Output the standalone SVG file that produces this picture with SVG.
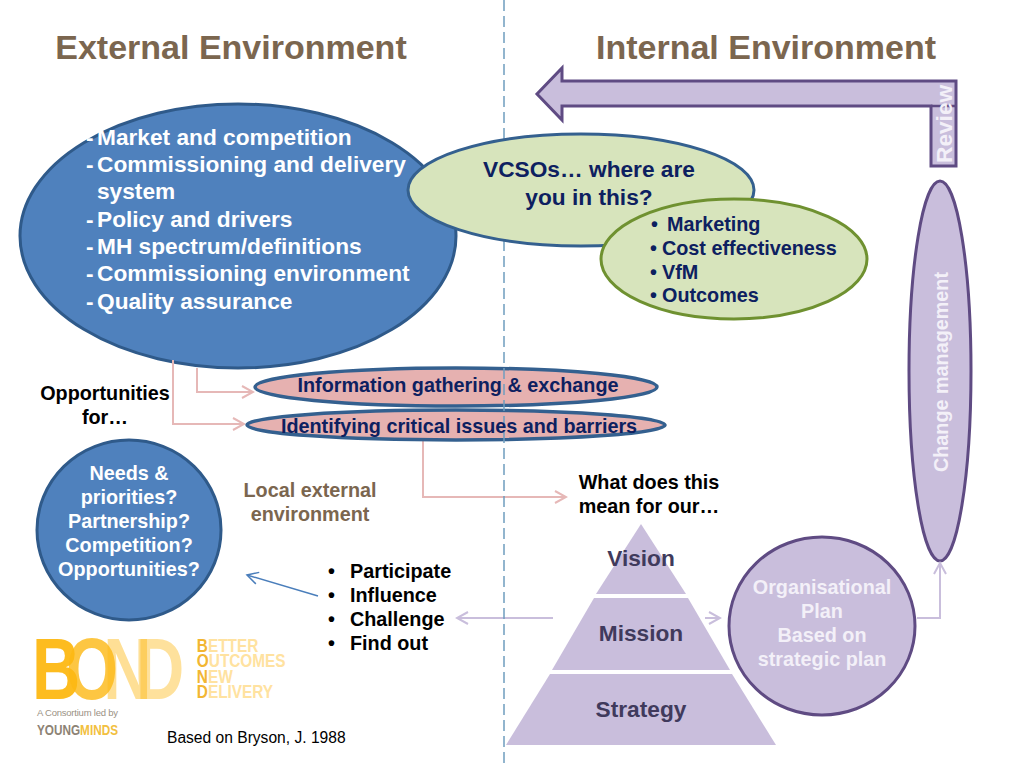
<svg xmlns="http://www.w3.org/2000/svg" width="1024" height="768" viewBox="0 0 1024 768">
<style>
text{font-family:"Liberation Sans",Arial,sans-serif;font-weight:700}
.c{text-anchor:middle}
.head{font-size:34px;fill:#7b664f}
.w{font-size:22.700px;fill:#fff}
.w2{font-size:19.800px;fill:#fff}
.l{font-size:19.800px;fill:#f3f0f8}
.n{fill:#0d2060}
.k{font-size:19.800px;fill:#000}
.pur{fill:#c9bedc;stroke:#5f4b83;stroke-width:3}
.pink{fill:none;stroke:#e6b8b7;stroke-width:2}
.lil{fill:none;stroke:#c9bedc;stroke-width:2}
.el{fill:#e6b1b0;stroke:#34608f;stroke-width:3.500}
.pyr{fill:#c9bedc}
.py{font-size:22.700px;fill:#403a5c}
</style>
<defs>
<marker id="ap" markerWidth="14" markerHeight="14" refX="12" refY="7" orient="auto" markerUnits="userSpaceOnUse"><path d="M1 1L12 7L1 13" fill="none" stroke="#e6b8b7" stroke-width="2"/></marker>
<marker id="al" markerWidth="14" markerHeight="14" refX="12" refY="7" orient="auto" markerUnits="userSpaceOnUse"><path d="M1 1L12 7L1 13" fill="none" stroke="#c9bedc" stroke-width="2"/></marker>
<marker id="ab" markerWidth="14" markerHeight="14" refX="12" refY="7" orient="auto" markerUnits="userSpaceOnUse"><path d="M1 1L12 7L1 13" fill="none" stroke="#4a7ebb" stroke-width="1.500"/></marker>
</defs>
<rect width="1024" height="768" fill="#fff"/>
<text class="head c" x="231" y="59">External Environment</text>
<text class="head c" x="766" y="59">Internal Environment</text>

<g id="review-arrow">
<path class="pur" d="M931 106H562V120L537 94L562 68V81H956V166H931Z"/>
<path d="M931 106H956" stroke="#5f4b83" stroke-width="2.500"/>
<text class="l" style="font-size:22.700px" transform="translate(952,163) rotate(-90)">Review</text>
</g>

<g id="external-ellipse">
<ellipse cx="238" cy="236" rx="218" ry="132" fill="#4f81bd" stroke="#2f5a8a" stroke-width="3"/>
<text class="w" x="86" y="145">-</text><text class="w" x="97" y="145">Market and competition</text>
<text class="w" x="86" y="172">-</text><text class="w" x="97" y="172">Commissioning and delivery</text>
<text class="w" x="97" y="199">system</text>
<text class="w" x="86" y="227">-</text><text class="w" x="97" y="227">Policy and drivers</text>
<text class="w" x="86" y="254">-</text><text class="w" x="97" y="254">MH spectrum/definitions</text>
<text class="w" x="86" y="281">-</text><text class="w" x="97" y="281">Commissioning environment</text>
<text class="w" x="86" y="309">-</text><text class="w" x="97" y="309">Quality assurance</text>
</g>

<g id="change">
<ellipse cx="940" cy="371" rx="31" ry="190" class="pur"/>
<text class="l c" transform="translate(948,372) rotate(-90)">Change management</text>
</g>

<g id="connectors">
<path class="pink" d="M197 368V392H253" marker-end="url(#ap)"/>
<path class="pink" d="M173 360V424H244" marker-end="url(#ap)"/>
<path class="pink" d="M423 441V497H566" marker-end="url(#ap)"/>
<path d="M318 596L247 575" fill="none" stroke="#4a7ebb" stroke-width="1.500" marker-end="url(#ab)"/>
<path class="lil" d="M553 618H457" marker-end="url(#al)"/>
<path class="lil" d="M705 618H720" marker-end="url(#al)"/>
<path class="lil" d="M917 618H940V563" marker-end="url(#al)"/>
</g>

<g id="info">
<ellipse cx="456" cy="387" rx="201" ry="19" class="el"/>
</g>
<g id="identify">
<ellipse cx="456" cy="425" rx="209" ry="15" class="el"/>
</g>
<line x1="504" y1="0" x2="504" y2="768" stroke="#6f9dbf" stroke-width="1.500" stroke-dasharray="11 5"/>
<text class="c n" x="458" y="392" font-size="19.800">Information gathering &amp; exchange</text>
<text class="c n" x="459" y="433" font-size="19.800">Identifying critical issues and barriers</text>

<g id="vcso">
<ellipse cx="581" cy="190" rx="173" ry="56" fill="#d7e4bc" stroke="#34608f" stroke-width="3"/>
<text class="c n" x="589" y="177" font-size="22.700">VCSOs… where are</text>
<text class="c n" x="589" y="205" font-size="22.700">you in this?</text>
</g>
<g id="marketing">
<ellipse cx="734" cy="259" rx="133" ry="60" fill="#d7e4bc" stroke="#6f9130" stroke-width="3"/>
<g class="n" font-size="19.800">
<text x="651" y="231">•</text><text x="667" y="231">Marketing</text>
<text x="650" y="255">•</text><text x="662" y="255">Cost effectiveness</text>
<text x="650" y="279">•</text><text x="662" y="279">VfM</text>
<text x="650" y="302">•</text><text x="662" y="302">Outcomes</text>
</g>
</g>

<text class="c k" x="105" y="400">Opportunities</text>
<text class="c k" x="105" y="424">for…</text>

<g id="needs">
<ellipse cx="129" cy="530" rx="92" ry="90" fill="#4f81bd" stroke="#2f5a8a" stroke-width="3"/>
<g class="c w2">
<text x="129" y="480">Needs &amp;</text>
<text x="129" y="504">priorities?</text>
<text x="129" y="528">Partnership?</text>
<text x="129" y="552">Competition?</text>
<text x="129" y="576">Opportunities?</text>
</g>
</g>

<text class="c" x="310" y="497" font-size="19.800" fill="#7b664f">Local external</text>
<text class="c" x="310" y="521" font-size="19.800" fill="#7b664f">environment</text>
<text class="c k" x="649" y="489">What does this</text>
<text class="c k" x="649" y="513">mean for our…</text>

<g id="actions" class="k">
<text class="k" x="328" y="578">•</text><text class="k" x="350" y="578">Participate</text>
<text class="k" x="328" y="602">•</text><text class="k" x="350" y="602">Influence</text>
<text class="k" x="328" y="626">•</text><text class="k" x="350" y="626">Challenge</text>
<text class="k" x="328" y="650">•</text><text class="k" x="350" y="650">Find out</text>
</g>

<g id="pyramid">
<path class="pyr" d="M641 524L686 594H596Z"/>
<path class="pyr" d="M594 598H688L730 670H552Z"/>
<path class="pyr" d="M550 674H732L776 745H506Z"/>
<text class="c py" x="641" y="566">Vision</text>
<text class="c py" x="641" y="641">Mission</text>
<text class="c py" x="641" y="717">Strategy</text>
</g>

<g id="plan">
<ellipse cx="822" cy="626" rx="93" ry="89" fill="#c9bedc" stroke="#5f4b83" stroke-width="3"/>
<g class="c l">
<text class="l" x="822" y="594">Organisational</text>
<text class="l" x="822" y="618">Plan</text>
<text class="l" x="822" y="642">Based on</text>
<text class="l" x="822" y="666">strategic plan</text>
</g>
</g>

<g id="logo">
<text transform="translate(0,699) scale(.76,1)" font-size="88" x="42 87 136 179" fill="#fdb813"><tspan fill-opacity=".95">B</tspan><tspan fill-opacity=".8">O</tspan><tspan fill-opacity=".45">N</tspan><tspan fill-opacity=".42">D</tspan></text>
<text transform="scale(.81,1)" font-size="19" fill="#ffe2a0"><tspan x="243" y="652"><tspan fill="#f2b632">B</tspan>ETTER</tspan><tspan x="243" y="667.500"><tspan fill="#f2b632">O</tspan>UTCOMES</tspan><tspan x="243" y="683"><tspan fill="#f2b632">N</tspan>EW</tspan><tspan x="243" y="698"><tspan fill="#f2b632">D</tspan>ELIVERY</tspan></text>
<text x="37" y="716" font-size="9.500" fill="#9a9184" style="font-weight:400" textLength="81">A Consortium led by</text>
<text x="37" y="735" font-size="15.500" fill="#8d8375" textLength="81" lengthAdjust="spacingAndGlyphs">YOUNG<tspan fill="#f2c040">MINDS</tspan></text>
</g>
<text x="167" y="743" font-size="15.600" fill="#000" style="font-weight:400">Based on Bryson, J. 1988</text>
</svg>
